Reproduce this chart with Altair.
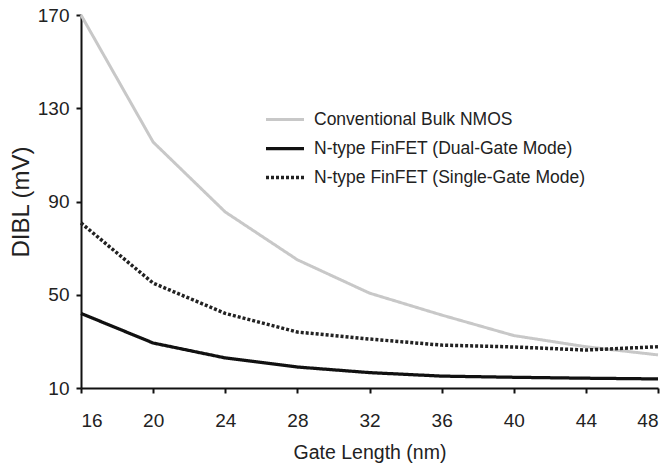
import altair as alt
import pandas as pd

gate_length = [16, 20, 24, 28, 32, 36, 40, 44, 48]
bulk_nmos = [170, 115.5, 85.5, 65, 50.7, 41.3, 32.5, 27.7, 24.2]
finfet_dual = [42, 29.3, 22.9, 19, 16.6, 15.1, 14.6, 14.2, 13.9]
finfet_single = [80.8, 55, 42, 34, 31, 28.4, 27.6, 26.3, 27.7]

series_names = [
    "Conventional Bulk NMOS",
    "N-type FinFET (Dual-Gate Mode)",
    "N-type FinFET (Single-Gate Mode)",
]
series_values = [bulk_nmos, finfet_dual, finfet_single]

rows = []
for name, vals in zip(series_names, series_values):
    for g, v in zip(gate_length, vals):
        rows.append({"gate": g, "dibl": v, "series": name})
df = pd.DataFrame(rows)

FONT = "Liberation Sans"

chart = alt.Chart(df).mark_line(strokeCap="butt", strokeJoin="round").encode(
    x=alt.X("gate:Q", scale=alt.Scale(domain=[16, 48], nice=False, zero=False),
            axis=alt.Axis(values=gate_length, title="Gate Length (nm)", grid=False,
                          labelPadding=18, labelBaseline="top", titlePadding=13,
                          titleFontSize=19.5)),
    y=alt.Y("dibl:Q", scale=alt.Scale(domain=[10, 170], nice=False, zero=False),
            axis=alt.Axis(values=[10, 50, 90, 130, 170], title="DIBL (mV)", grid=False,
                          labelPadding=7, titlePadding=4, titleFontSize=24)),
    color=alt.Color("series:N", scale=alt.Scale(domain=series_names,
                    range=["#c8c8c8", "#111111", "#222222"]),
                    legend=alt.Legend(title=None)),
    strokeDash=alt.StrokeDash("series:N", scale=alt.Scale(domain=series_names,
                    range=[[1, 0], [1, 0], [3, 2]]), legend=alt.Legend(title=None)),
    strokeWidth=alt.StrokeWidth("series:N", scale=alt.Scale(domain=series_names,
                    range=[3, 3.5, 2]), legend=alt.Legend(title=None)),
    order=alt.Order("series:N"),
).properties(
    width=577, height=373,
    autosize=alt.AutoSizeParams(type="none"),
    padding={"left": 81, "top": 15, "right": 11, "bottom": 80},
).configure_view(stroke=None).configure_axis(
    domainColor="#111111", domainWidth=2, tickColor="#111111", tickWidth=2, tickSize=5,
    labelFont=FONT, labelFontSize=19, labelColor="#222222",
    titleFont=FONT, titleFontWeight="normal", titleColor="#222222",
).configure_legend(
    orient="none", legendX=183, legendY=91, labelLimit=400,
    symbolType="stroke", symbolSize=1444, labelFont=FONT, labelFontSize=17.5,
    labelColor="#222222", labelOffset=8, rowPadding=2, clipHeight=27,
    symbolStrokeColor="#111111",
)

chart.save("out.html", embed_options={"renderer": "svg", "actions": False})
